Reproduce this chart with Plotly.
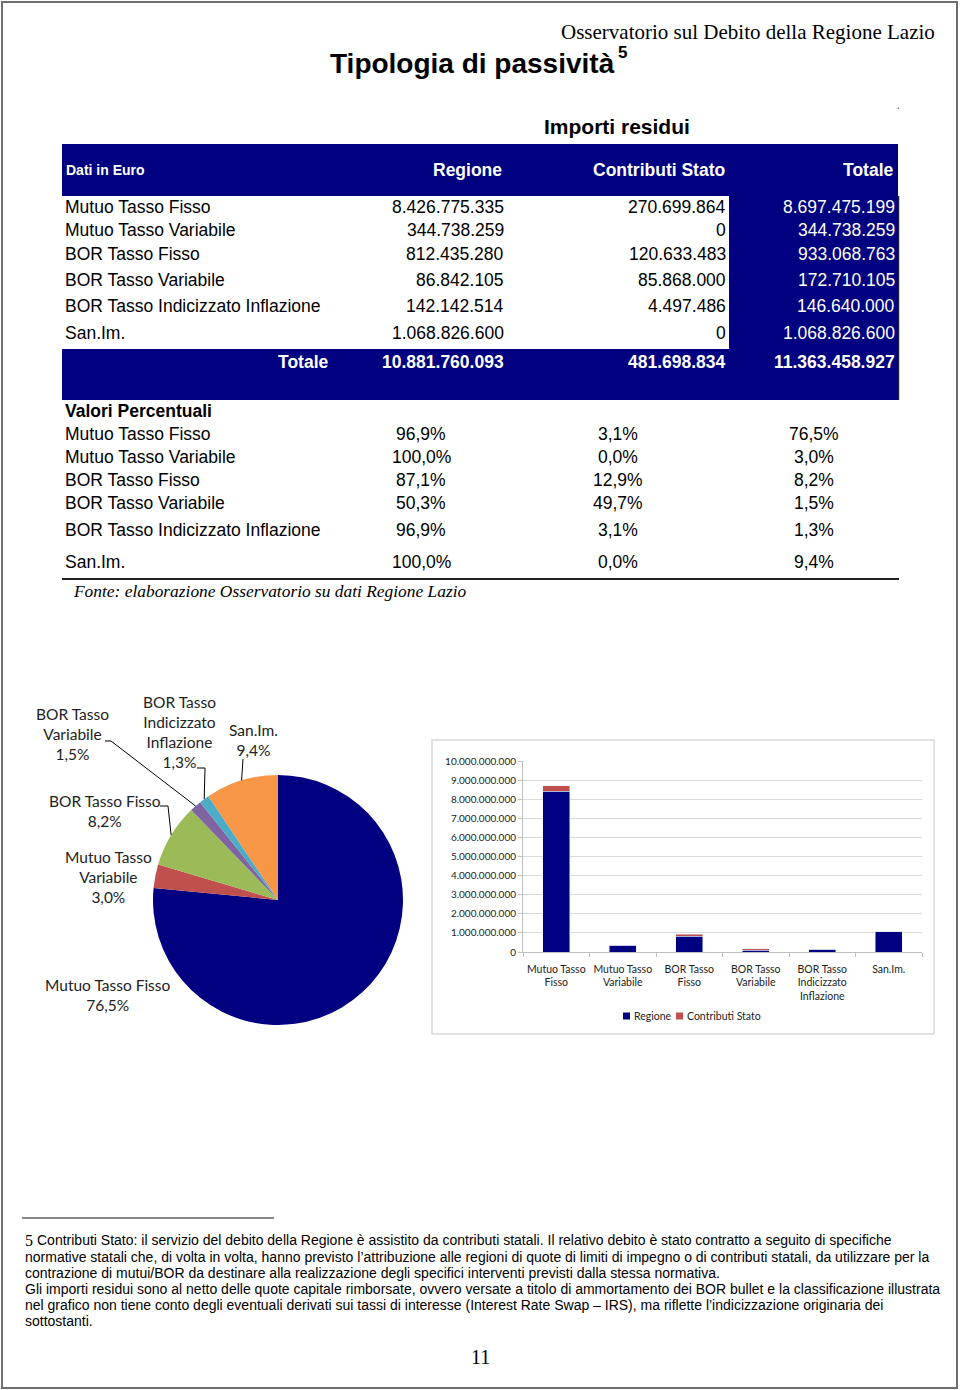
import math
import plotly.graph_objects as go

# ---------------- data ----------------
categories = ["Mutuo Tasso Fisso", "Mutuo Tasso Variabile", "BOR Tasso Fisso",
              "BOR Tasso Variabile", "BOR Tasso Indicizzato Inflazione", "San.Im."]
regione = [8426775335, 344738259, 812435280, 86842105, 142142514, 1068826600]
contributi = [270699864, 0, 120633483, 85868000, 4497486, 0]
totale = [8697475199, 344738259, 933068763, 172710105, 146640000, 1068826600]
totali_riga = [10881760093, 481698834, 11363458927]

pct_regione = [96.9, 100.0, 87.1, 50.3, 96.9, 100.0]
pct_contributi = [3.1, 0.0, 12.9, 49.7, 3.1, 0.0]
pct_totale = [76.5, 3.0, 8.2, 1.5, 1.3, 9.4]

pie_labels = ["Mutuo Tasso Fisso", "Mutuo Tasso<br>Variabile", "BOR Tasso Fisso",
              "BOR Tasso<br>Variabile", "BOR Tasso<br>Indicizzato<br>Inflazione", "San.Im."]
bar_ticklabels = ["Mutuo Tasso<br>Fisso", "Mutuo Tasso<br>Variabile", "BOR Tasso<br>Fisso",
                  "BOR Tasso<br>Variabile", "BOR Tasso<br>Indicizzato<br>Inflazione", "San.Im."]
series_names = ["Regione", "Contributi Stato"]
y_ticks = [i * 1_000_000_000 for i in range(11)]

footnote_lines = [
    "Contributi Stato: il servizio del debito della Regione è assistito da contributi statali. Il relativo debito è stato contratto a seguito di specifiche",
    "normative statali che, di volta in volta, hanno previsto l’attribuzione alle regioni di quote di limiti di impegno o di contributi statali, da utilizzare per la",
    "contrazione di mutui/BOR da destinare alla realizzazione degli specifici interventi previsti dalla stessa normativa.",
    "Gli importi residui sono al netto delle quote capitale rimborsate, ovvero versate a titolo di ammortamento dei BOR bullet e la classificazione illustrata",
    "nel grafico non tiene conto degli eventuali derivati sui tassi di interesse (Interest Rate Swap – IRS), ma riflette l’indicizzazione originaria dei",
    "sottostanti.",
]

# ---------------- styles ----------------
W, H = 960, 1390
NAVY = "#000080"
RED = "#C0504D"
SLICE_COLORS = ["#000080", "#C0504D", "#9BBB59", "#8064A2", "#4BACC6", "#F79646"]
SANS = "Liberation Sans, Arial, sans-serif"
SERIF = "Liberation Serif, Times New Roman, serif"
CHART = "Lato, Open Sans, sans-serif"


def px(x):
    return x / W


def py(y):
    return 1 - y / H


def fmt_int(v):
    return f"{v:,}".replace(",", ".")


def fmt_pct(v):
    return f"{v:.1f}%".replace(".", ",")


annotations = []
shapes = []


def text(x, y, s, size, family=SANS, color="black", anchor="left", valign="middle"):
    annotations.append(dict(x=px(x), y=py(y), xref="paper", yref="paper", text=s,
                            showarrow=False, xanchor=anchor, yanchor=valign,
                            align={"left": "left", "right": "right", "center": "center"}[anchor],
                            font=dict(family=family, size=size, color=color)))


def rect(x0, y0, x1, y1, fill=None, line=None, lw=1, layer="below"):
    shapes.append(dict(type="rect", xref="paper", yref="paper", x0=px(x0), x1=px(x1),
                       y0=py(y1), y1=py(y0), fillcolor=fill if fill else "rgba(0,0,0,0)",
                       line=dict(color=line if line else "rgba(0,0,0,0)", width=lw if line else 0),
                       layer=layer))


def line(pts, color="black", lw=1):
    path = "M " + " L ".join(f"{px(x)},{py(y)}" for x, y in pts)
    shapes.append(dict(type="path", xref="paper", yref="paper", path=path,
                       line=dict(color=color, width=lw)))


# ---------------- page frame & headings ----------------
rect(2, 2, 957, 1388, line="#6E6E6E", lw=2, layer="above")
text(937, 32, "Osservatorio sul Debito della Regione Lazio", 21, SERIF, anchor="right")
text(617, 63, "<b>Tipologia di passività</b>", 28, SANS, anchor="right")
text(616, 52, "<b>5</b>", 17, SANS, anchor="left")
shapes.append(dict(type="circle", xref="paper", yref="paper", x0=px(897.5), x1=px(899),
                   y0=py(109), y1=py(107.5), fillcolor="#444444", line=dict(width=0)))
text(617, 126, "<b>Importi residui</b>", 21, SANS, anchor="center")

# ---------------- table: importi ----------------
rect(62, 144, 898, 196, fill=NAVY)
rect(729, 196, 898, 349, fill=NAVY)
rect(62, 349, 898, 400, fill=NAVY)
line([(898.5, 196), (898.5, 400)], color="#202040", lw=1.5)
text(64, 170, "<b>Dati in Euro</b>", 14, SANS, color="white")
text(504, 170, "<b>Regione</b>", 17.5, SANS, color="white", anchor="right")
text(727, 170, "<b>Contributi Stato</b>", 17.5, SANS, color="white", anchor="right")
text(896, 170, "<b>Totale</b>", 17.5, SANS, color="white", anchor="right")

row_y = [207, 230, 254, 280, 306, 333]
for i, cat in enumerate(categories):
    y = row_y[i]
    text(63, y, cat, 17.5)
    text(506, y, fmt_int(regione[i]), 17.5, anchor="right")
    text(728, y, fmt_int(contributi[i]), 17.5, anchor="right")
    text(897, y, fmt_int(totale[i]), 17.5, color="white", anchor="right")

text(331, 362, "<b>Totale</b>", 17.5, color="white", anchor="right")
for xr, v in zip([506, 728, 897], totali_riga):
    text(xr, 362, "<b>" + fmt_int(v) + "</b>", 17.5, color="white", anchor="right")

# ---------------- table: percentuali ----------------
text(63, 411, "<b>Valori Percentuali</b>", 17.5)
pct_y = [434, 457, 480, 503, 530, 562]
for i, cat in enumerate(categories):
    y = pct_y[i]
    text(63, y, cat, 17.5)
    text(421, y, fmt_pct(pct_regione[i]), 17.5, anchor="center")
    text(618, y, fmt_pct(pct_contributi[i]), 17.5, anchor="center")
    text(814, y, fmt_pct(pct_totale[i]), 17.5, anchor="center")
line([(62, 579), (899, 579)], color="#222222", lw=2)
text(71, 591, "<i>Fonte: elaborazione Osservatorio su dati Regione Lazio</i>", 17.4, SERIF)

# ---------------- pie ----------------
CX, CY, R = 278, 900, 125
pie = go.Pie(values=totale, labels=categories, sort=False, direction="clockwise",
             rotation=0, textinfo="none", showlegend=False,
             marker=dict(colors=SLICE_COLORS, line=dict(width=0)),
             domain=dict(x=[px(CX - R), px(CX + R)], y=[py(CY + R), py(CY - R)]))

tot_sum = sum(totale)
mids = []
acc = 0
for v in totale:
    mids.append((acc + v / 2) / tot_sum)
    acc += v


def rim(i):
    a = 2 * math.pi * mids[i]
    return (CX + R * math.sin(a), CY - R * math.cos(a))


pie_label_pos = [(108, 995), (108, 877), (105, 811), (72, 734), (179, 732), (253, 740)]
for i in range(len(categories)):
    x, y = pie_label_pos[i]
    text(x, y, pie_labels[i] + "<br>" + fmt_pct(pct_totale[i]), 15.5, CHART, color="#222222",
         anchor="center")

# leader lines
line([(105, 741), (111, 741), rim(3)], lw=1)
line([(197, 768), (205, 768), rim(4)], lw=1)
line([(243, 759), rim(5)], lw=1)
line([(160, 806), (168, 806), rim(2)], lw=1)

# ---------------- stacked bar chart ----------------
rect(432, 740, 934, 1034, line="#D9D9D9", lw=1.5)
series_colors = [NAVY, RED]
bar_reg = go.Bar(x=categories, y=regione, name=series_names[0], marker_color=series_colors[0],
                 xaxis="x", yaxis="y", showlegend=False)
bar_con = go.Bar(x=categories, y=contributi, name=series_names[1], marker_color=series_colors[1],
                 xaxis="x", yaxis="y", showlegend=False)

# legend (small square swatches, Excel style)
legend_x = [623, 676]
for lx, name, col in zip(legend_x, series_names, series_colors):
    rect(lx, 1012.5, lx + 7, 1019.5, fill=col, layer="above")
    text(lx + 9, 1016, name, 10.5, CHART, color="#222222")

fig = go.Figure([pie, bar_reg, bar_con])
fig.update_layout(
    width=W, height=H, margin=dict(l=0, r=0, t=0, b=0, pad=0, autoexpand=False),
    paper_bgcolor="white", plot_bgcolor="white",
    separators=",.",
    barmode="stack", bargap=0.59,
    showlegend=False,
    xaxis=dict(domain=[px(523), px(922)], type="category", tickvals=categories,
               ticktext=bar_ticklabels, tickangle=0, showline=True, linecolor="#BFBFBF",
               linewidth=1, ticks="outside", tickson="boundaries", ticklen=4,
               tickcolor="#BFBFBF", automargin=False, ticklabelstandoff=7,
               tickfont=dict(family=CHART, size=10.5, color="#222222"), showgrid=False,
               fixedrange=True),
    yaxis=dict(domain=[py(952), py(761)], range=[0, 10_000_000_000], tickvals=y_ticks,
               ticktext=[fmt_int(v) for v in y_ticks], showline=True, linecolor="#BFBFBF",
               ticks="outside", ticklen=4, tickcolor="#BFBFBF", gridcolor="#D9D9D9",
               gridwidth=1, zeroline=False, automargin=False,
               tickfont=dict(family=CHART, size=10, color="#222222"), fixedrange=True),
    annotations=annotations, shapes=shapes,
)

# ---------------- footnote ----------------
line([(22, 1218), (274, 1218)], color="#111111", lw=1)
foot_y = [1240, 1257, 1273, 1289, 1305, 1321]
fig.add_annotation(x=px(23), y=py(1240), xref="paper", yref="paper", text="5",
                   showarrow=False, xanchor="left", yanchor="middle",
                   font=dict(family=SERIF, size=16, color="black"))
for i, s in enumerate(footnote_lines):
    x0 = 35 if i == 0 else 23
    fig.add_annotation(x=px(x0), y=py(foot_y[i]), xref="paper", yref="paper", text=s,
                       showarrow=False, xanchor="left", yanchor="middle",
                       font=dict(family=SANS, size=14, color="black"))
fig.add_annotation(x=px(480), y=py(1357), xref="paper", yref="paper", text="11",
                   showarrow=False, xanchor="center", yanchor="middle",
                   font=dict(family=SERIF, size=20, color="black"))
fig.update_layout(shapes=shapes)

fig.write_html("out.html", config={"displayModeBar": False},
               post_script="document.body.style.margin='0';document.body.style.padding='0';")
